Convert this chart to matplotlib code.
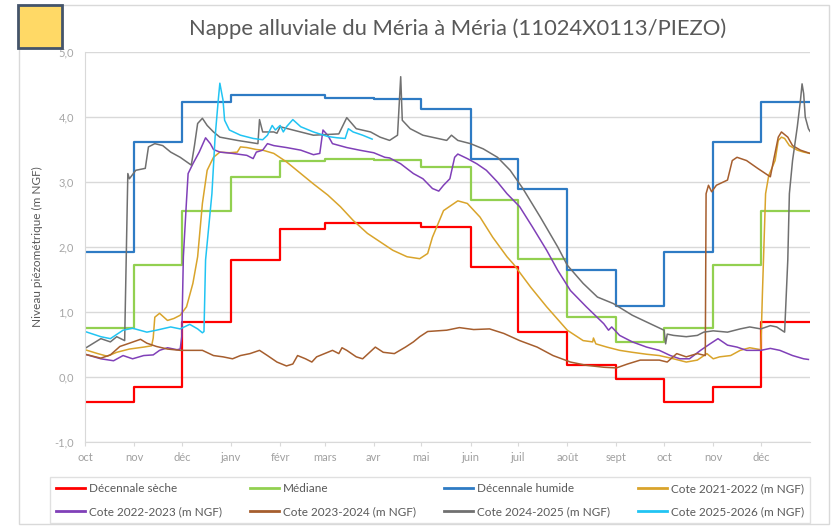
import matplotlib.pyplot as plt
import pandas as pd
from matplotlib.patches import Rectangle

plt.rcParams['font.family'] = ['Lato', 'DejaVu Sans']

# x axis: days since 1 oct, 15 months (oct -> dec of the following year)
month_labels = ['oct', 'nov', 'déc', 'janv', 'févr', 'mars', 'avr', 'mai',
                'juin', 'juil', 'août', 'sept', 'oct', 'nov', 'déc']

# monthly reference levels (m NGF)
dec_seche = [-0.38, -0.15, 0.85, 1.80, 2.27, 2.37, 2.37, 2.31, 1.70, 0.70, 0.18, -0.03, -0.38, -0.15, 0.85]
mediane = [0.76, 1.73, 2.55, 3.07, 3.32, 3.35, 3.34, 3.23, 2.72, 1.82, 0.92, 0.54, 0.76, 1.73, 2.55]
dec_humide = [1.93, 3.61, 4.23, 4.34, 4.34, 4.29, 4.27, 4.12, 3.35, 2.90, 1.65, 1.10, 1.93, 3.61, 4.23]

# observed levels: (day, value)
d_2122 = [0, 8, 14, 20, 28, 37, 42, 43, 44, 47, 52, 56, 60, 64, 68, 71, 74, 77, 81, 85, 91, 96, 98, 102,
          108, 112, 119, 127, 136, 144, 153, 161, 169, 178, 186, 194, 203, 211, 216, 219, 226, 235, 241,
          249, 257, 266, 270, 281, 291, 304, 314, 320, 320.5, 322, 329, 337, 345, 354, 362, 371, 379,
          386, 392, 396, 400, 407, 413, 419, 426, 427, 429, 431, 435, 437, 439, 441, 444, 449, 453, 457]
v_2122 = [0.42, 0.36, 0.32, 0.38, 0.43, 0.46, 0.48, 0.60, 0.92, 0.98, 0.87, 0.90, 0.95, 1.08, 1.44, 1.85,
          2.67, 3.18, 3.38, 3.46, 3.45, 3.46, 3.54, 3.53, 3.50, 3.49, 3.44, 3.31, 3.13, 2.97, 2.80, 2.62,
          2.41, 2.21, 2.08, 1.95, 1.85, 1.82, 1.90, 2.15, 2.56, 2.71, 2.67, 2.46, 2.15, 1.85, 1.74, 1.38,
          1.08, 0.72, 0.56, 0.54, 0.60, 0.51, 0.46, 0.41, 0.38, 0.35, 0.33, 0.28, 0.23, 0.26, 0.36, 0.28,
          0.31, 0.33, 0.41, 0.45, 0.42, 1.28, 2.82, 3.10, 3.33, 3.64, 3.69, 3.67, 3.56, 3.49, 3.46, 3.44]

d_2223 = [0, 10, 18, 24, 30, 37, 43, 47, 52, 58, 60, 61, 62, 64, 65, 68, 72, 76, 79, 81, 85, 93, 102, 106,
          108, 112, 115, 119, 127, 136, 144, 148, 150, 153, 156, 165, 173, 182, 189, 192, 199, 207, 213,
          219, 223, 226, 230, 233, 235, 241, 247, 253, 260, 266, 274, 282, 291, 298, 306, 316, 327, 330,
          332, 337, 345, 354, 362, 369, 375, 381, 388, 394, 399, 405, 411, 417, 426, 432, 438, 443, 446,
          453, 456]
v_2223 = [0.35, 0.28, 0.25, 0.33, 0.28, 0.33, 0.34, 0.41, 0.45, 0.42, 0.43, 0.62, 1.85, 2.72, 3.13, 3.28,
          3.46, 3.68, 3.59, 3.50, 3.46, 3.44, 3.41, 3.36, 3.46, 3.49, 3.59, 3.56, 3.53, 3.49, 3.42, 3.44,
          3.80, 3.72, 3.59, 3.53, 3.49, 3.45, 3.38, 3.37, 3.28, 3.13, 3.05, 2.90, 2.86, 2.95, 3.05, 3.38,
          3.43, 3.36, 3.28, 3.18, 3.00, 2.82, 2.62, 2.31, 1.95, 1.64, 1.33, 1.08, 0.82, 0.72, 0.77, 0.64,
          0.54, 0.46, 0.41, 0.33, 0.28, 0.28, 0.41, 0.51, 0.59, 0.49, 0.46, 0.41, 0.41, 0.44, 0.41, 0.36,
          0.33, 0.28, 0.27]

d_2324 = [0, 10, 16, 22, 28, 35, 39, 45, 52, 60, 68, 74, 81, 87, 93, 98, 104, 110, 115, 121, 127, 131, 134,
          139, 143, 146, 153, 156, 160, 162, 165, 171, 175, 183, 188, 195, 202, 207, 211, 216, 228, 236,
          245, 255, 264, 274, 285, 295, 306, 316, 327, 335, 342, 350, 358, 362, 367, 373, 379, 386, 391,
          391.5, 393, 395, 398, 405, 408, 411, 417, 424, 432, 434, 437, 439, 443, 446, 451, 457]
v_2324 = [0.35, 0.29, 0.34, 0.47, 0.52, 0.58, 0.52, 0.47, 0.43, 0.41, 0.41, 0.41, 0.33, 0.31, 0.28, 0.33,
          0.36, 0.41, 0.33, 0.23, 0.17, 0.20, 0.33, 0.28, 0.23, 0.31, 0.38, 0.41, 0.36, 0.45, 0.41, 0.31,
          0.28, 0.46, 0.38, 0.36, 0.46, 0.54, 0.62, 0.70, 0.72, 0.76, 0.73, 0.74, 0.67, 0.56, 0.46, 0.33,
          0.23, 0.18, 0.15, 0.14, 0.20, 0.26, 0.26, 0.26, 0.23, 0.36, 0.31, 0.36, 0.33, 2.82, 2.95, 2.85,
          2.95, 3.03, 3.33, 3.38, 3.33, 3.21, 3.08, 3.33, 3.69, 3.77, 3.69, 3.56, 3.49, 3.44]

d_2425 = [0, 10, 16, 20, 25, 26, 27, 28, 32, 38, 40, 44, 49, 54, 60, 67, 69, 71, 74, 77, 81, 85, 96, 109,
          110, 112, 119, 121, 123, 131, 144, 160, 165, 171, 180, 186, 192, 197, 199, 200, 205, 213, 228,
          231, 235, 243, 251, 260, 268, 276, 287, 298, 304, 314, 323, 333, 345, 358, 365, 366, 367, 371,
          379, 386, 390, 396, 405, 413, 419, 426, 432, 436, 441, 443, 444, 446, 449, 451, 452, 453, 454,
          456, 457]
v_2425 = [0.44, 0.59, 0.54, 0.62, 0.56, 1.85, 3.13, 3.05, 3.18, 3.21, 3.54, 3.59, 3.56, 3.46, 3.38, 3.26,
          3.56, 3.90, 3.98, 3.87, 3.77, 3.69, 3.64, 3.59, 3.96, 3.77, 3.77, 3.75, 3.85, 3.80, 3.72, 3.74,
          3.99, 3.82, 3.77, 3.69, 3.64, 3.72, 4.62, 3.95, 3.82, 3.72, 3.64, 3.72, 3.64, 3.59, 3.51, 3.38,
          3.18, 2.90, 2.46, 2.00, 1.72, 1.44, 1.23, 1.13, 0.95, 0.80, 0.72, 0.51, 0.66, 0.64, 0.62, 0.64,
          0.69, 0.71, 0.69, 0.74, 0.77, 0.74, 0.79, 0.77, 0.69, 1.80, 2.82, 3.33, 3.85, 4.26, 4.51, 4.36,
          4.00, 3.82, 3.78]

d_2526 = [0, 10, 16, 24, 30, 39, 45, 54, 60, 66, 71, 74, 75, 76, 80, 82, 84, 85, 87, 88, 91, 98, 106, 112,
          115, 118, 120, 123, 125, 127, 131, 136, 144, 153, 159, 164, 166, 169, 175, 180, 181]
v_2526 = [0.70, 0.62, 0.59, 0.72, 0.75, 0.69, 0.72, 0.77, 0.74, 0.81, 0.74, 0.68, 0.70, 1.80, 2.82, 3.69,
          4.26, 4.52, 4.26, 3.95, 3.80, 3.72, 3.67, 3.65, 3.72, 3.87, 3.80, 3.87, 3.77, 3.85, 3.96, 3.85,
          3.77, 3.70, 3.68, 3.67, 3.82, 3.77, 3.72, 3.67, 3.66]

start = pd.Timestamp('2024-10-01')
month_starts = list((pd.date_range(start, '2026-01-01', freq='MS') - start).days)

fig = plt.figure(figsize=(8.38, 5.28), dpi=100)
ax = fig.add_axes([85 / 838, 1 - 442 / 528, 725 / 838, 390 / 528])

grid_c = '#D9D9D9'
for y in range(-1, 6):
    ax.axhline(y, color=grid_c, lw=1.0, zorder=0)

ax.step(month_starts, dec_seche + dec_seche[-1:], where='post', color='#FF0000', lw=1.6,
        label='Décennale sèche')
ax.step(month_starts, mediane + mediane[-1:], where='post', color='#92D050', lw=1.6, label='Médiane')
ax.step(month_starts, dec_humide + dec_humide[-1:], where='post', color='#2E7BC4', lw=1.6,
        label='Décennale humide')
ax.plot(d_2122, v_2122, color='#D9A42B', lw=1.1, label='Cote 2021-2022 (m NGF)')
ax.plot(d_2223, v_2223, color='#8040B8', lw=1.1, label='Cote 2022-2023 (m NGF)')
ax.plot(d_2324, v_2324, color='#A65E2E', lw=1.1, label='Cote 2023-2024 (m NGF)')
ax.plot(d_2425, v_2425, color='#707070', lw=1.1, label='Cote 2024-2025 (m NGF)')
ax.plot(d_2526, v_2526, color='#21C4F3', lw=1.1, label='Cote 2025-2026 (m NGF)')

ax.set_xlim(0, month_starts[-1])
ax.set_ylim(-1, 5)
ax.set_xticks(month_starts[:-1])
ax.set_xticklabels(month_labels)
ax.set_yticks(range(-1, 6))
ax.set_yticklabels([f'{y:.1f}'.replace('.', ',') for y in range(-1, 6)])
ax.tick_params(axis='x', colors=grid_c, labelcolor='#A0A0A0', labelsize=8, length=3, pad=4)
ax.tick_params(axis='y', length=0, labelcolor='#A6A6A6', labelsize=8, pad=8)
for s in ['top', 'right']:
    ax.spines[s].set_visible(False)
for s in ['left', 'bottom']:
    ax.spines[s].set_color(grid_c)
ax.set_ylabel('Niveau piézométrique (m NGF)', color='#595959', fontsize=8.5, labelpad=8)

fig.text(458 / 838, 1 - 29 / 528, 'Nappe alluviale du Méria à Méria (11024X0113/PIEZO)',
         ha='center', va='center', fontsize=15.8, color='#595959')

# chart border and top-left yellow box
fig.patches.append(Rectangle((19 / 838, 1 - 524 / 528), 810 / 838, 519 / 528, transform=fig.transFigure,
                             fill=False, edgecolor=grid_c, lw=1))
fig.patches.append(Rectangle((18 / 838, 1 - 48 / 528), 44 / 838, 43 / 528, transform=fig.transFigure,
                             facecolor='#FFD966', edgecolor='#44546A', lw=2))

handles, labels = ax.get_legend_handles_labels()
order = [0, 4, 1, 5, 2, 6, 3, 7]
leg = fig.legend([handles[i] for i in order], [labels[i] for i in order], ncol=4, mode='expand',
                 loc='lower left', bbox_to_anchor=(50 / 838, 1 - 523 / 528, 760 / 838, 46 / 528),
                 fontsize=8.5, handlelength=2.5, handletextpad=0.3, frameon=True, fancybox=False,
                 borderpad=0.5, labelspacing=1.0, borderaxespad=0)
leg.get_frame().set_edgecolor(grid_c)
leg.get_frame().set_linewidth(1)
for t in leg.get_texts():
    t.set_color('#595959')
for line in leg.get_lines():
    line.set_linewidth(2)

fig.savefig('out.png', dpi=100)
